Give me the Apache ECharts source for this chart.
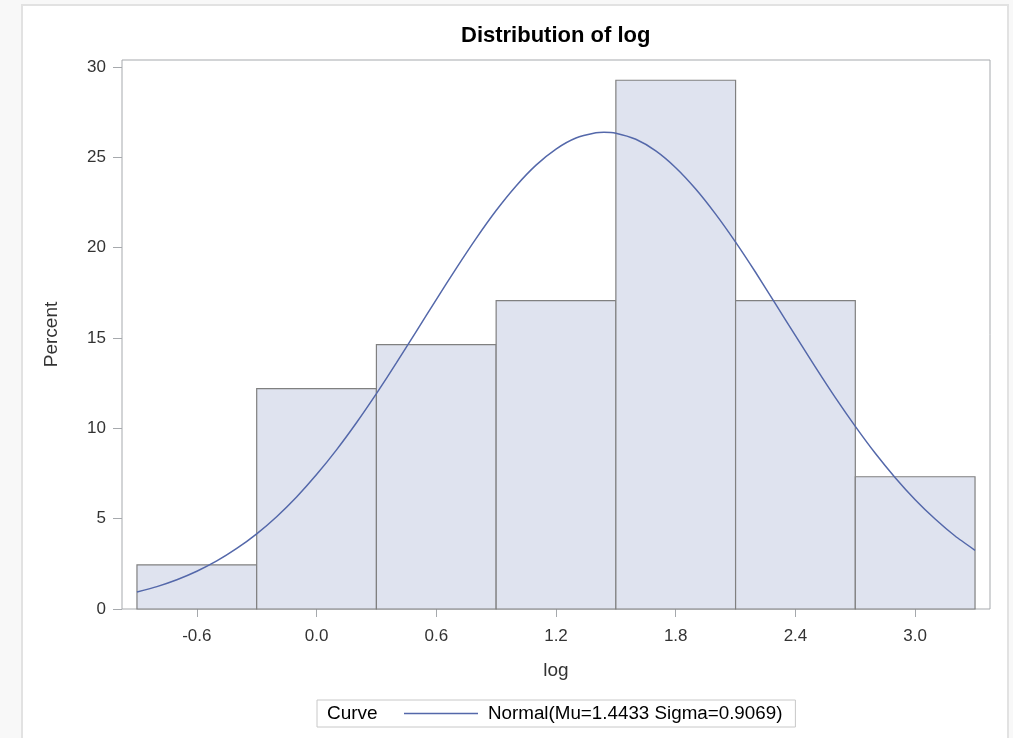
<!DOCTYPE html>
<html>
<head>
<meta charset="utf-8">
<script src="https://cdn.jsdelivr.net/npm/echarts@6/dist/echarts.min.js"></script>
<style>
  html, body { margin: 0; padding: 0; background: #f8f8f8; overflow: hidden; }
  #panel { position: absolute; left: 21px; top: 4px; width: 984px; height: 800px; background: #fff; border: 2px solid #e2e2e2; }
  #chart { position: absolute; left: 0; top: 0; width: 1013px; height: 738px; }
</style>
</head>
<body>
<div id="panel"></div>
<div id="chart"></div>
<script>
// Histogram bins (midpoints) and percent heights
const binMidpoints = [-0.6, 0.0, 0.6, 1.2, 1.8, 2.4, 3.0];
const binWidth = 0.6;
const binPercents = [2.44, 12.20, 14.63, 17.07, 29.27, 17.07, 7.32];

// Fitted normal curve
const curveX = [-0.9, -0.8, -0.7, -0.6, -0.5, -0.4, -0.3, -0.2, -0.1, 0.0,
                0.1, 0.2, 0.3, 0.4, 0.5, 0.6, 0.7, 0.8, 0.9, 1.0,
                1.1, 1.2, 1.3, 1.4, 1.44, 1.5, 1.6, 1.7, 1.8, 1.9, 2.0,
                2.1, 2.2, 2.3, 2.4, 2.5, 2.6, 2.7, 2.8, 2.9, 3.0,
                3.1, 3.2, 3.3];
const curveY = [0.94, 1.24, 1.62, 2.09, 2.66, 3.35, 4.16, 5.11, 6.20, 7.44,
                8.81, 10.31, 11.92, 13.62, 15.37, 17.13, 18.86, 20.52, 22.06, 23.42,
                24.57, 25.46, 26.07, 26.36, 26.39, 26.34, 26.00, 25.36, 24.43, 23.25, 21.86,
                20.31, 18.64, 16.89, 15.13, 13.39, 11.70, 10.11, 8.62, 7.27, 6.05,
                4.98, 4.04, 3.25];

// Axis tick labels
const xTicks = [-0.6, 0.0, 0.6, 1.2, 1.8, 2.4, 3.0];
const yTicks = [0, 5, 10, 15, 20, 25, 30];

const titleText = 'Distribution of log';
const xName = 'log';
const yName = 'Percent';
const legendTitle = 'Curve';
const curveName = 'Normal(Mu=1.4433 Sigma=0.9069)';

const FONT = '"Liberation Sans", Arial, sans-serif';
const chart = echarts.init(document.getElementById('chart'), null, { renderer: 'canvas' });

const barData = binMidpoints.map((m, i) => [m - binWidth / 2, m + binWidth / 2, binPercents[i]]);
const lineData = curveX.map((x, i) => [x, curveY[i]]);

chart.setOption({
  animation: false,
  backgroundColor: 'transparent',
  title: {
    text: titleText,
    left: 461,
    top: 25,
    padding: 0,
    textStyle: { fontFamily: FONT, fontSize: 22, fontWeight: 'bold', color: '#000' }
  },
  grid: {
    left: 122, top: 60, right: 23, bottom: 129,
    show: true, borderColor: '#a6a9ad', borderWidth: 1, backgroundColor: 'transparent'
  },
  xAxis: {
    type: 'value',
    min: -0.975, max: 3.375,
    name: xName, nameLocation: 'middle', nameGap: 52,
    nameTextStyle: { fontFamily: FONT, fontSize: 19, color: '#333' },
    axisLine: { show: false, onZero: false },
    axisTick: { show: true, inside: false, length: 8, customValues: xTicks, lineStyle: { color: '#a6a9ad' } },
    axisLabel: { customValues: xTicks, margin: 19, fontFamily: FONT, fontSize: 17, color: '#333', formatter: v => v.toFixed(1) },
    splitLine: { show: false }
  },
  yAxis: {
    type: 'value',
    min: 0, max: 30.39,
    name: yName, nameLocation: 'middle', nameGap: 61, nameRotate: 90,
    nameTextStyle: { fontFamily: FONT, fontSize: 19, color: '#333' },
    axisLine: { show: false, onZero: false },
    axisTick: { show: true, inside: false, length: 9, customValues: yTicks, lineStyle: { color: '#a6a9ad' } },
    axisLabel: { customValues: yTicks, margin: 16, fontFamily: FONT, fontSize: 17, color: '#333' },
    splitLine: { show: false }
  },
  legend: {
    show: true,
    left: 317, top: 700,
    padding: [3, 13, 3, 87],
    borderColor: '#c8c8c8', borderWidth: 1,
    itemWidth: 74, itemHeight: 1.5,
    data: [{ name: curveName, icon: 'rect' }],
    textStyle: { fontFamily: FONT, fontSize: 18.8, color: '#000', lineHeight: 21, padding: [0, 0, 0, 5] }
  },
  graphic: [{
    type: 'text', left: 327, top: 703,
    style: { text: legendTitle, fontFamily: FONT, fontSize: 19, fill: '#000', lineHeight: 21 }
  }],
  series: [
    {
      type: 'custom',
      name: 'bins',
      data: barData,
      z: 2,
      renderItem: function (params, api) {
        const p0 = api.coord([api.value(0), api.value(2)]);
        const p1 = api.coord([api.value(1), 0]);
        return {
          type: 'rect',
          shape: { x: p0[0], y: p0[1], width: p1[0] - p0[0], height: p1[1] - p0[1] },
          style: { fill: '#dfe3ef', stroke: '#808080', lineWidth: 1.2 }
        };
      },
      encode: { x: [0, 1], y: 2 }
    },
    {
      type: 'line',
      name: curveName,
      data: lineData,
      smooth: 0.2,
      symbol: 'none',
      z: 5,
      lineStyle: { color: '#5468aa', width: 1.5 },
      itemStyle: { color: '#5468aa' }
    }
  ]
});
</script>
</body>
</html>
